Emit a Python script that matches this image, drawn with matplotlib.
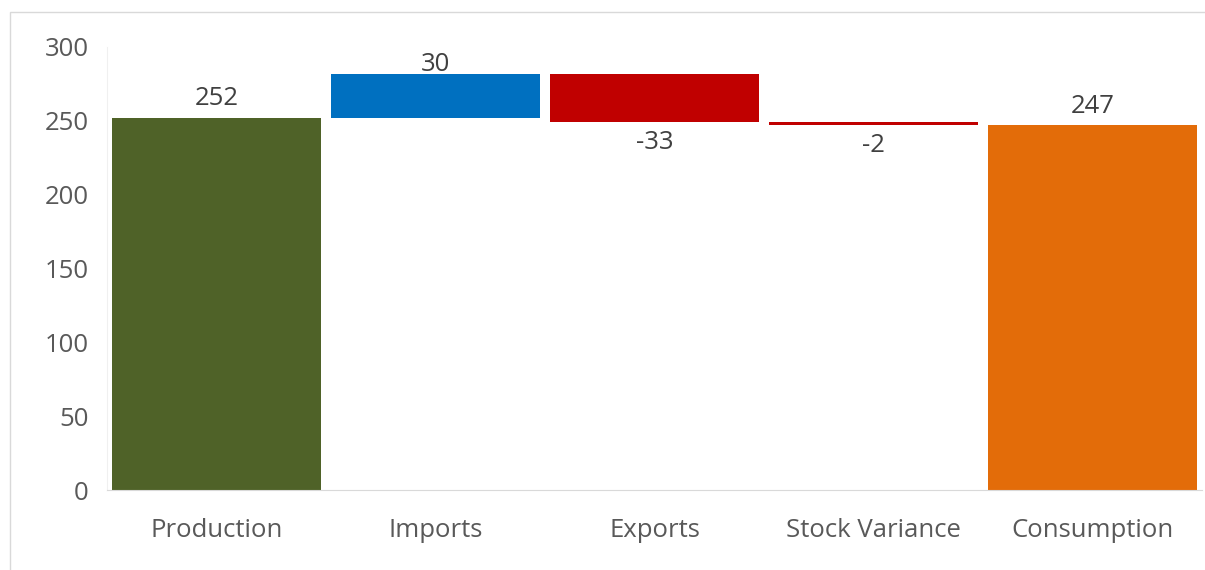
import matplotlib
matplotlib.use("Agg")
import matplotlib.pyplot as plt
from matplotlib.patches import Rectangle

categories = ["Production", "Imports", "Exports", "Stock Variance", "Consumption"]
values = [252, 30, -33, -2, 247]
is_total = [True, False, False, False, True]
colors = ["#4F6228", "#0070C0", "#C00000", "#C00000", "#E36C09"]
yticks = [0, 50, 100, 150, 200, 250, 300]

plt.rcParams["font.family"] = ["Open Sans", "DejaVu Sans"]
FS = 18.5

fig = plt.figure(figsize=(12.05, 5.7), dpi=100)
ax = fig.add_axes([107 / 1205, 1 - 490 / 570, (1202 - 107) / 1205, (490 - 47) / 570])

# chart border
fig.patches.append(Rectangle((10 / 1205, -0.1), 1.1, 1 - 12 / 570 + 0.1, transform=fig.transFigure,
                             fill=False, edgecolor="#D9D9D9", linewidth=1.0))

running = 0
bottoms, heights = [], []
for v, tot in zip(values, is_total):
    if tot:
        bottoms.append(0)
        heights.append(v)
        running = v
    else:
        if v >= 0:
            bottoms.append(running)
        else:
            bottoms.append(running + v)
        heights.append(abs(v))
        running += v

x = range(len(categories))
ax.bar(x, heights, bottom=bottoms, width=0.95, color=colors, linewidth=0)

for i, (v, tot, b, h) in enumerate(zip(values, is_total, bottoms, heights)):
    label = str(v)
    if tot:
        ax.text(i, b + h + 13, label, ha="center", va="center", fontsize=FS, color="#404040")
    elif v >= 0:
        ax.text(i, b + h + 6, label, ha="center", va="center", fontsize=FS, color="#404040")
    else:
        ax.text(i, b - 14, label, ha="center", va="center", fontsize=FS, color="#404040")

ax.set_xlim(-0.5, len(categories) - 0.5)
ax.set_ylim(0, 300)
ax.set_yticks(yticks)
ax.set_xticks(list(x))
ax.set_xticklabels(categories)
ax.tick_params(axis="both", length=0, labelsize=FS, labelcolor="#595959")
ax.tick_params(axis="y", pad=13)
ax.tick_params(axis="x", pad=20)
for s in ["top", "right"]:
    ax.spines[s].set_visible(False)
ax.spines["left"].set_color("#F0F0F0")
ax.spines["bottom"].set_color("#D9D9D9")

fig.savefig("out.png", dpi=100)
